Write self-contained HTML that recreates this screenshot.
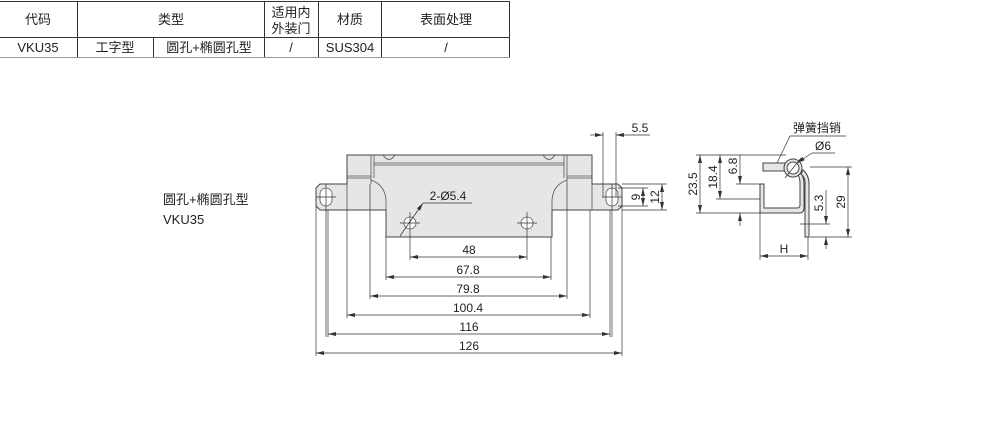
<!DOCTYPE html>
<html><head><meta charset="utf-8"><style>
body{margin:0;background:#fff;width:992px;height:421px;overflow:hidden;font-family:"Liberation Sans","Noto Sans CJK SC",sans-serif}
svg{position:absolute;left:0;top:0}
text{font-family:"Liberation Sans","Noto Sans CJK SC",sans-serif;fill:#222}
</style></head><body>
<svg width="992" height="421" viewBox="0 0 992 421">
<defs><marker id="a" markerWidth="8" markerHeight="4" refX="8" refY="2" orient="auto-start-reverse" markerUnits="userSpaceOnUse"><path d="M0,0 L8,2 L0,4z" fill="#333"/></marker></defs>
<g stroke="#333" stroke-width="1" fill="none">
<line x1="0" y1="1.5" x2="510" y2="1.5"/>
<line x1="0" y1="37.5" x2="510" y2="37.5"/>
<line x1="0" y1="57.5" x2="510" y2="57.5" stroke="#999"/>
<line x1="77.5" y1="1" x2="77.5" y2="57"/>
<line x1="153.5" y1="37" x2="153.5" y2="57"/>
<line x1="264.5" y1="1" x2="264.5" y2="57"/>
<line x1="318.5" y1="1" x2="318.5" y2="57"/>
<line x1="381.5" y1="1" x2="381.5" y2="57"/>
<line x1="509.5" y1="1" x2="509.5" y2="57"/>
</g>
<g font-size="13" text-anchor="middle">
<text x="38" y="24">代码</text><text x="171" y="24">类型</text>
<text x="291" y="17">适用内</text><text x="291" y="33">外装门</text>
<text x="350" y="24">材质</text><text x="446" y="24">表面处理</text>
<text x="38" y="52">VKU35</text><text x="115" y="52">工字型</text><text x="209" y="52">圆孔+椭圆孔型</text>
<text x="291" y="52">/</text><text x="350" y="52">SUS304</text><text x="446" y="52">/</text>
</g>
<text x="163" y="204" font-size="13">圆孔+椭圆孔型</text>
<text x="163" y="224" font-size="13">VKU35</text>
<g stroke="#444" stroke-width="1" fill="#e6e6e6">
<path d="M316,188 L320,184 L347,184 L347,155 L592,155 L592,184 L618,184 L622,188 L622,206 L618,210 L552,210 L552,237 L386,237 L386,210 L320,210 L316,206z"/>
</g>
<g stroke="#555" stroke-width="0.8" fill="none">
<line x1="371" y1="155" x2="371" y2="184"/><line x1="374" y1="155" x2="374" y2="178"/>
<line x1="567" y1="155" x2="567" y2="184"/><line x1="564" y1="155" x2="564" y2="178"/>
<line x1="374" y1="163" x2="564" y2="163"/><line x1="374" y1="165" x2="564" y2="165"/>
<line x1="347" y1="176" x2="371" y2="176"/><line x1="347" y1="178" x2="371" y2="178"/>
<line x1="567" y1="176" x2="592" y2="176"/><line x1="567" y1="178" x2="592" y2="178"/>
<line x1="347" y1="184" x2="347" y2="210"/><line x1="592" y1="184" x2="592" y2="210"/>
<path d="M371,180 Q385,185 386,200 L386,210"/><path d="M567,180 Q553,185 552,200 L552,210"/>
<path d="M383,155 Q389,164 395,155"/><path d="M543,155 Q549,164 555,155"/>
<rect x="320" y="188" width="12" height="18" rx="6" fill="#fff"/>
<rect x="606" y="188" width="12" height="18" rx="6" fill="#fff"/>
<circle cx="410" cy="223" r="6" fill="#fff"/><circle cx="527" cy="223" r="6" fill="#fff"/>
</g>
<g stroke="#333" stroke-width="0.7" fill="none">
<line x1="326" y1="184" x2="326" y2="337"/><line x1="316" y1="197" x2="336" y2="197"/>
<line x1="612" y1="184" x2="612" y2="337"/><line x1="602" y1="197" x2="622" y2="197"/>
<line x1="410" y1="212" x2="410" y2="260"/><line x1="400" y1="223" x2="420" y2="223"/>
<line x1="527" y1="212" x2="527" y2="260"/><line x1="517" y1="223" x2="537" y2="223"/>
<line x1="316" y1="206" x2="316" y2="356"/><line x1="622" y1="206" x2="622" y2="356"/>
<line x1="347" y1="210" x2="347" y2="318"/><line x1="590" y1="210" x2="590" y2="318"/>
<line x1="328" y1="210" x2="328" y2="337"/><line x1="610" y1="210" x2="610" y2="337"/>
<line x1="370" y1="184" x2="370" y2="299"/><line x1="567" y1="184" x2="567" y2="299"/>
<line x1="386" y1="237" x2="386" y2="280"/><line x1="551" y1="237" x2="551" y2="280"/>
<line x1="410" y1="257" x2="527" y2="257" marker-start="url(#a)" marker-end="url(#a)"/>
<line x1="386" y1="277" x2="551" y2="277" marker-start="url(#a)" marker-end="url(#a)"/>
<line x1="370" y1="296" x2="567" y2="296" marker-start="url(#a)" marker-end="url(#a)"/>
<line x1="347" y1="315" x2="590" y2="315" marker-start="url(#a)" marker-end="url(#a)"/>
<line x1="328" y1="334" x2="610" y2="334" marker-start="url(#a)" marker-end="url(#a)"/>
<line x1="316" y1="353" x2="622" y2="353" marker-start="url(#a)" marker-end="url(#a)"/>
<line x1="400" y1="236" x2="423" y2="203" marker-end="url(#a)"/><line x1="423" y1="203" x2="472" y2="203"/>
<line x1="603" y1="132" x2="603" y2="197"/><line x1="616" y1="132" x2="616" y2="197"/>
<line x1="590" y1="135" x2="603" y2="135" marker-end="url(#a)"/><line x1="650" y1="135" x2="616" y2="135" marker-end="url(#a)"/>
<line x1="618" y1="188" x2="648" y2="188"/><line x1="618" y1="206" x2="648" y2="206"/>
<line x1="622" y1="184" x2="667" y2="184"/><line x1="622" y1="210" x2="667" y2="210"/>
<line x1="643" y1="188" x2="643" y2="206" marker-start="url(#a)" marker-end="url(#a)"/>
<line x1="662" y1="184" x2="662" y2="210" marker-start="url(#a)" marker-end="url(#a)"/>
</g>
<g font-size="12" text-anchor="middle">
<text x="469" y="254">48</text><text x="468" y="274">67.8</text><text x="468" y="293">79.8</text>
<text x="468" y="312">100.4</text><text x="469" y="331">116</text><text x="469" y="350">126</text>
<text x="448" y="200">2-Ø5.4</text><text x="640" y="132">5.5</text>
<text transform="translate(640,197) rotate(-90)">9</text>
<text transform="translate(659,197) rotate(-90)">12</text>
</g>
<!-- side view -->
<g stroke="#444" stroke-width="1" fill="#e6e6e6">
<rect x="763" y="163" width="22" height="8"/>
<path d="M760,184 L764,184 L764,208 L797,208 Q800,208 800,205 L800,183 Q800,178 798,175 L801,173 Q804,178 804,184 L804,208 Q804,213 799,213 L760,213z"/>
<path d="M801,174 Q806,178 805,186 L805,237 L809,237 L809,184 Q809,175 803,170z"/>
<circle cx="793" cy="168" r="9"/><circle cx="793" cy="168" r="6" fill="#fff"/>
</g>
<g stroke="#333" stroke-width="0.7" fill="none">
<line x1="785" y1="178" x2="801" y2="158"/><line x1="797" y1="163" x2="812" y2="153" marker-start="url(#a)"/><line x1="812" y1="153" x2="835" y2="153"/>
<line x1="777" y1="163" x2="790" y2="136"/><line x1="790" y1="136" x2="846" y2="136"/>
<line x1="696" y1="155" x2="786" y2="155"/><line x1="696" y1="213" x2="760" y2="213"/>
<line x1="700" y1="155" x2="700" y2="213" marker-start="url(#a)" marker-end="url(#a)"/>
<line x1="716" y1="199" x2="760" y2="199"/>
<line x1="720" y1="155" x2="720" y2="199" marker-start="url(#a)" marker-end="url(#a)"/>
<line x1="736" y1="184" x2="760" y2="184"/>
<line x1="740" y1="155" x2="740" y2="184" marker-end="url(#a)"/><line x1="740" y1="226" x2="740" y2="213" marker-end="url(#a)"/>
<line x1="810" y1="167" x2="852" y2="167"/><line x1="810" y1="237" x2="852" y2="237"/>
<line x1="848" y1="167" x2="848" y2="237" marker-start="url(#a)" marker-end="url(#a)"/>
<line x1="800" y1="224" x2="830" y2="224"/>
<line x1="826" y1="190" x2="826" y2="224" marker-end="url(#a)"/><line x1="826" y1="249" x2="826" y2="237" marker-end="url(#a)"/>
<line x1="760" y1="213" x2="760" y2="260"/><line x1="808" y1="237" x2="808" y2="260"/>
<line x1="760" y1="256" x2="808" y2="256" marker-start="url(#a)" marker-end="url(#a)"/>
</g>
<g font-size="12" text-anchor="middle">
<text x="817" y="132">弹簧挡销</text><text x="823" y="150">Ø6</text>
<text transform="translate(697,184) rotate(-90)">23.5</text>
<text transform="translate(717,177) rotate(-90)">18.4</text>
<text transform="translate(737,166) rotate(-90)">6.8</text>
<text transform="translate(845,202) rotate(-90)">29</text>
<text transform="translate(823,203) rotate(-90)">5.3</text>
<text x="784" y="253">H</text>
</g>
</svg>
</body></html>
